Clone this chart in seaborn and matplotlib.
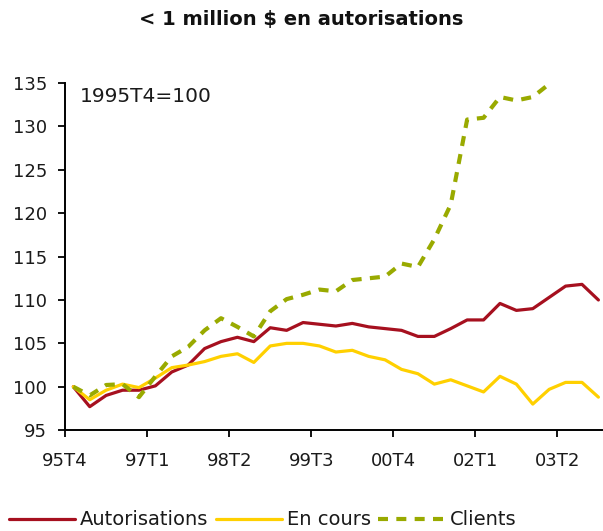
import matplotlib
matplotlib.use("Agg")
import matplotlib.pyplot as plt
import seaborn as sns
import pandas as pd

# quarterly index, 1995T4 = 100
quarters = ["95T4", "96T1", "96T2", "96T3", "96T4", "97T1", "97T2", "97T3", "97T4",
            "98T1", "98T2", "98T3", "98T4", "99T1", "99T2", "99T3", "99T4",
            "00T1", "00T2", "00T3", "00T4", "01T1", "01T2", "01T3", "01T4",
            "02T1", "02T2", "02T3", "02T4", "03T1", "03T2", "03T3", "03T4"]

autorisations = [100.0, 97.7, 99.0, 99.6, 99.6, 100.1, 101.7, 102.5, 104.4, 105.2, 105.7,
                 105.2, 106.8, 106.5, 107.4, 107.2, 107.0, 107.3, 106.9, 106.7, 106.5,
                 105.8, 105.8, 106.7, 107.7, 107.7, 109.6, 108.8, 109.0, 110.3, 111.6,
                 111.8, 110.0]
en_cours = [100.0, 98.5, 99.6, 100.3, 99.9, 101.0, 102.2, 102.5, 102.9, 103.5, 103.8,
            102.8, 104.7, 105.0, 105.0, 104.7, 104.0, 104.2, 103.5, 103.1, 102.0,
            101.5, 100.3, 100.8, 100.1, 99.4, 101.2, 100.3, 98.0, 99.7, 100.5,
            100.5, 98.8]
clients = [100.0, 99.0, 100.2, 100.3, 98.8, 101.2, 103.5, 104.6, 106.5, 107.9, 106.9,
           105.8, 108.7, 110.1, 110.6, 111.2, 111.0, 112.3, 112.5, 112.7, 114.2,
           113.8, 117.0, 121.0, 130.8, 131.0, 133.4, 133.0, 133.4, 134.9]

tick_labels = ["95T4", "97T1", "98T2", "99T3", "00T4", "02T1", "03T2"]

sns.set_style("white")
plt.rcParams["font.family"] = ["DejaVu Sans"]

df = pd.DataFrame({"t": range(len(quarters)), "Autorisations": autorisations, "En cours": en_cours})
dfc = pd.DataFrame({"t": range(len(clients)), "Clients": clients})

fig = plt.figure(figsize=(6.03, 5.31), dpi=100)
ax = fig.add_axes([0.108, 0.19, 0.898, 0.6535])

sns.lineplot(data=df, x="t", y="Autorisations", ax=ax, color="#A6101F", lw=2.3, label="Autorisations")
sns.lineplot(data=df, x="t", y="En cours", ax=ax, color="#FFD000", lw=2.3, label="En cours")
sns.lineplot(data=dfc, x="t", y="Clients", ax=ax, color="#99AA00", lw=3.0, label="Clients")
ax.lines[-1].set_dashes([2.4, 2.0])

ax.set_xlim(-0.5, len(quarters) - 0.5)
ax.set_ylim(95, 135)
ax.set_yticks(range(95, 136, 5))
ax.set_xticks([i - 0.5 for i in range(0, len(quarters), 5)])
ax.set_xticklabels(tick_labels)
ax.set_xlabel("")
ax.set_ylabel("")
ax.tick_params(axis="both", direction="out", length=5, width=1.3, color="black",
               labelsize=13, labelcolor="#1a1a1a", bottom=True, left=True)
ax.tick_params(axis="x", pad=11)
ax.tick_params(axis="y", pad=8)
for s in ["top", "right"]:
    ax.spines[s].set_visible(False)
for s in ["left", "bottom"]:
    ax.spines[s].set_color("black")
    ax.spines[s].set_linewidth(1.4)

ax.text(0.027, 0.99, "1995T4=100", transform=ax.transAxes, fontsize=14.5,
        color="#1a1a1a", va="top", ha="left")

fig.suptitle("< 1 million $ en autorisations", x=0.5, y=0.982, fontsize=14,
             fontweight="bold", color="#111111")

ax.get_legend().remove()
handles, labels = ax.get_legend_handles_labels()
fig.legend(handles, labels, loc="lower center", bbox_to_anchor=(0.435, -0.03), ncol=3,
           frameon=False, fontsize=14, handlelength=3.4, handletextpad=0.25,
           columnspacing=0.4, labelcolor="#1a1a1a")

fig.savefig("out.png", dpi=100)
